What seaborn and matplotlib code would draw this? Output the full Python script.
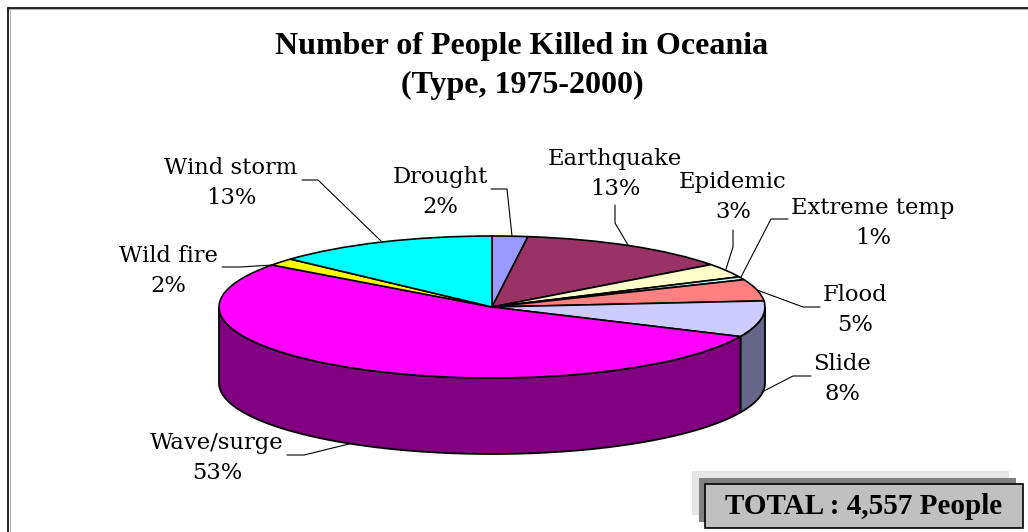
import numpy as np
import matplotlib
matplotlib.use('Agg')
import matplotlib.pyplot as plt
from matplotlib.patches import Polygon, Rectangle
import seaborn as sns

categories = ['Drought', 'Earthquake', 'Epidemic', 'Extreme temp', 'Flood',
              'Slide', 'Wave/surge', 'Wild fire', 'Wind storm']
shares = [2.1, 12.7, 3.2, 0.7, 4.9, 8.2, 53.2, 1.7, 13.2]
top_colors = ['#9999FF', '#993366', '#FFFFCC', '#CCFFFF', '#FF8080',
              '#CCCCFF', '#FF00FF', '#FFFF00', '#00FFFF']
side_colors = {'Slide': '#666688', 'Wave/surge': '#800080'}
title_text = 'Number of People Killed in Oceania\n(Type, 1975-2000)'
total_text = 'TOTAL : 4,557 People'

# layout in reference pixels
W, H = 1028, 532
cx, cy, rx, ry, depth = 492, 307, 273, 71, 76
label_pos = {'Drought': (440, 192), 'Earthquake': (615, 174), 'Epidemic': (733, 197),
             'Extreme temp': (873, 223), 'Flood': (855, 310), 'Slide': (842, 379),
             'Wave/surge': (217, 458), 'Wild fire': (168, 271), 'Wind storm': (231, 183)}
leaders = {'Drought': [(491, 189), (507, 189), (512, 236)],
           'Earthquake': [(615, 205), (615, 223), (628, 245)],
           'Epidemic': [(733, 230), (733, 247), (726, 269)],
           'Extreme temp': [(788, 219), (771, 219), (741, 277)],
           'Flood': [(820, 307), (803, 307), (757, 290)],
           'Slide': [(811, 376), (793, 376), (762, 392)],
           'Wave/surge': [(287, 455), (304, 455), (353, 443)],
           'Wild fire': [(222, 267), (240, 267), (273, 265)],
           'Wind storm': [(302, 180), (318, 180), (381, 241)]}

sns.set_theme(style='white')
plt.rcParams['font.family'] = 'DejaVu Serif'

fig = plt.figure(figsize=(W / 100, H / 100), dpi=100)
ax = fig.add_axes([0, 0, 1, 1])

# unit circle in data space, stretched to an ellipse by the axis limits
ax.pie(shares, colors=sns.color_palette(top_colors), startangle=90, counterclock=False,
       wedgeprops={'edgecolor': 'black', 'linewidth': 1.2, 'zorder': 3})
ax.set_aspect('auto')
ax.set_xlim((0 - cx) / rx, (W - cx) / rx)
ax.set_ylim((cy - H) / ry, cy / ry)

# side wall of the slices facing the viewer
edges = np.cumsum([0] + shares) * 3.6
for name, start, end in zip(categories, edges[:-1], edges[1:]):
    if name not in side_colors:
        continue
    theta = np.radians(np.linspace(max(start, 90), min(end, 270), 120))
    top = np.column_stack([np.sin(theta), np.cos(theta)])
    low = top[::-1] - [0, depth / ry]
    ax.add_patch(Polygon(np.vstack([top, low]), closed=True, facecolor=side_colors[name],
                         edgecolor='black', linewidth=1.3, zorder=2))

# overlay in pixel coordinates for frame, labels and total box
ov = fig.add_axes([0, 0, 1, 1], facecolor='none')
ov.set_xlim(0, W)
ov.set_ylim(H, 0)
ov.axis('off')

# frame with its faint grey shadow
ov.plot([9.5, 9.5], [9, H], color='#B0B0B0', linewidth=0.8)
ov.plot([9, W], [9, 9], color='#B0B0B0', linewidth=0.8)
ov.plot([8, 8], [7.5, H], color='black', linewidth=1.2)
ov.plot([8, W], [7.5, 7.5], color='black', linewidth=1.2)
ov.text(522, 66, title_text, ha='center', va='center', fontsize=23, fontweight='bold',
        family='Liberation Serif', linespacing=1.42, color='black')

for name, share in zip(categories, shares):
    x, y = label_pos[name]
    ov.text(x, y, f'{name}\n{share:.0f}%', ha='center', va='center', fontsize=16.3,
            linespacing=1.45, color='black')
    xs, ys = zip(*leaders[name])
    ov.plot(xs, ys, color='black', linewidth=0.8)

ov.add_patch(Rectangle((692, 471), 317, 44, facecolor='#E6E6E6', edgecolor='none'))
ov.add_patch(Rectangle((699, 478), 317, 44, facecolor='#808080', edgecolor='none'))
ov.add_patch(Rectangle((705, 483.5), 318, 44, facecolor='#C0C0C0', edgecolor='black', linewidth=1.2))
ov.text(864, 506, total_text, ha='center', va='center', fontsize=21, fontweight='bold',
        family='Liberation Serif', color='black')

fig.savefig('out.png', dpi=100, facecolor='white')
